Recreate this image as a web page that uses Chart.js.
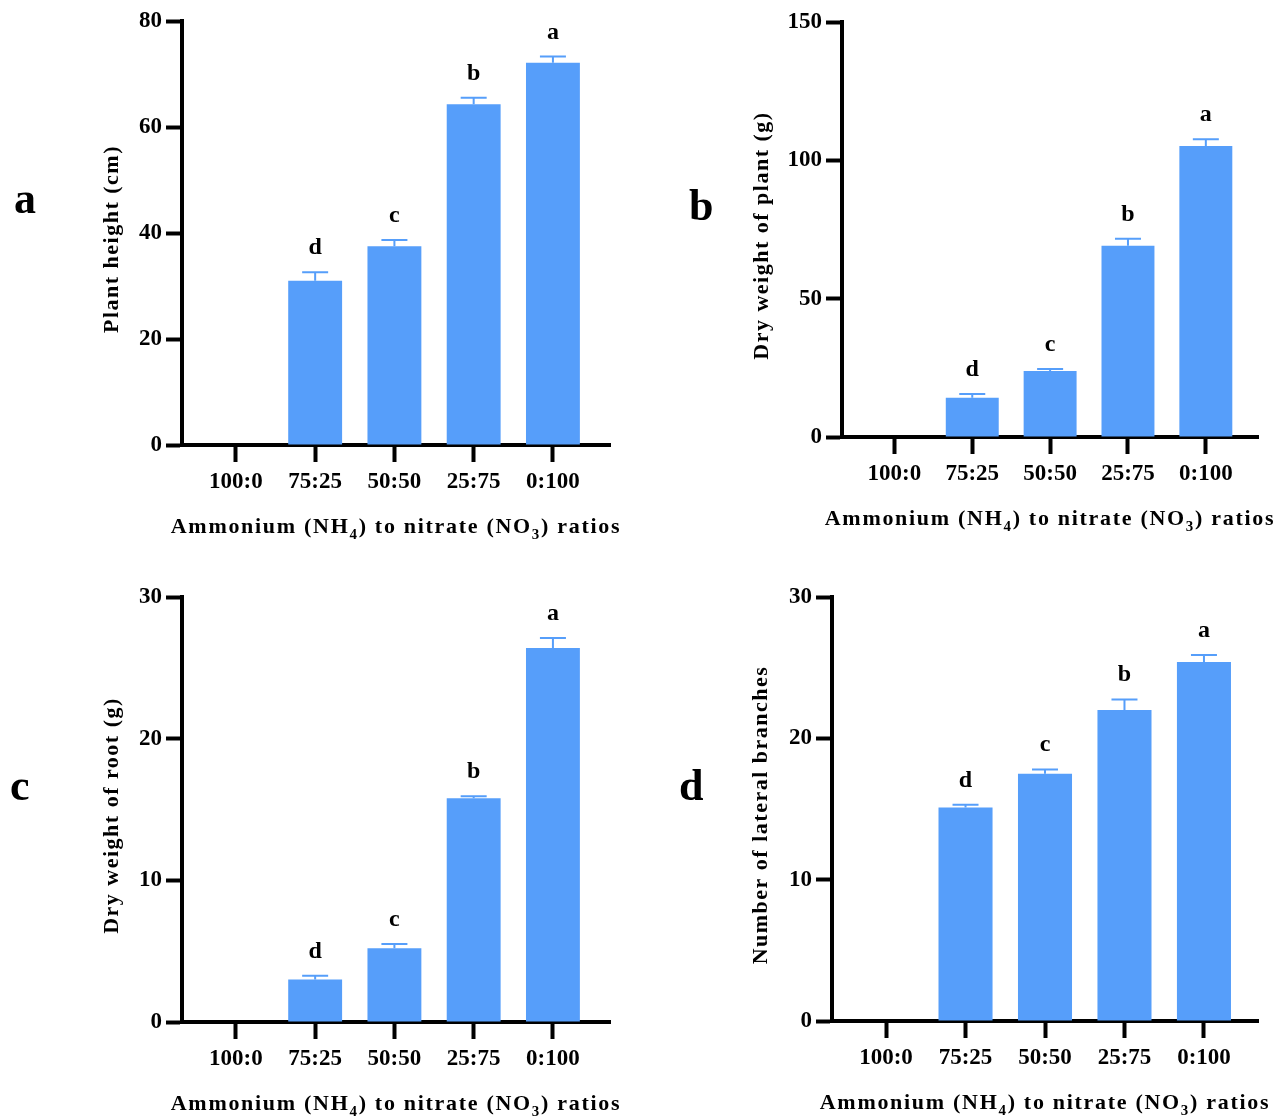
<!DOCTYPE html>
<html>
<head>
<meta charset="utf-8">
<script src="https://cdn.jsdelivr.net/npm/chart.js@4.4.1/dist/chart.umd.min.js"></script>
<style>
  body { margin: 0; background: #fff; }
  canvas { position: absolute; }
</style>
</head>
<body>
<canvas id="pa" width="642" height="558" style="left:0;top:0"></canvas>
<canvas id="pb" width="642" height="558" style="left:642px;top:0"></canvas>
<canvas id="pc" width="642" height="559" style="left:0;top:558px"></canvas>
<canvas id="pd" width="642" height="559" style="left:642px;top:558px"></canvas>
<script>
const categories = ['100:0', '75:25', '50:50', '25:75', '0:100'];
const sigLetters = ['', 'd', 'c', 'b', 'a'];

// a: plant height (cm)
const heightMean = [0, 31.0, 37.5, 64.3, 72.1];
const heightErr = [0, 1.6, 1.2, 1.2, 1.2];
// b: dry weight of plant (g)
const plantDryMean = [0, 14.2, 23.9, 69.1, 105.2];
const plantDryErr = [0, 1.3, 0.7, 2.6, 2.4];
// c: dry weight of root (g)
const rootDryMean = [0, 3.0, 5.2, 15.8, 26.4];
const rootDryErr = [0, 0.26, 0.3, 0.13, 0.7];
// d: number of lateral branches
const branchMean = [0, 15.1, 17.5, 22.0, 25.4];
const branchErr = [0, 0.2, 0.3, 0.75, 0.5];

const FONT = '"Liberation Serif", "Times New Roman", serif';
const BLUE = '#569EFA';
const xTitleParts = [['Ammonium (NH', false], ['4', true], [') to nitrate (NO', false], ['3', true], [') ratios', false]];

function drawParts(ctx, parts, cx, baseline, size, spacing) {
  ctx.letterSpacing = spacing + 'px';
  const fontFor = sub => 'bold ' + (sub ? Math.round(size * 0.7) : size) + 'px ' + FONT;
  let total = 0;
  const widths = parts.map(([t, sub]) => {
    ctx.font = fontFor(sub);
    const w = ctx.measureText(t).width;
    total += w;
    return w;
  });
  let x = cx - total / 2;
  ctx.textAlign = 'left';
  ctx.textBaseline = 'alphabetic';
  parts.forEach(([t, sub], i) => {
    ctx.font = fontFor(sub);
    ctx.fillText(t, x, sub ? baseline + size * 0.25 : baseline);
    x += widths[i];
  });
}

function makePanel(id, cfg) {
  const decor = {
    id: 'decor',
    afterDatasetsDraw(chart) {
      const ctx = chart.ctx;
      const ys = chart.scales.y;
      const meta = chart.getDatasetMeta(0);
      ctx.save();
      meta.data.forEach((bar, i) => {
        if (!cfg.values[i]) return;
        const top = ys.getPixelForValue(cfg.values[i] + cfg.errors[i]);
        ctx.strokeStyle = BLUE;
        ctx.lineWidth = 2;
        ctx.beginPath();
        ctx.moveTo(bar.x, bar.y);
        ctx.lineTo(bar.x, top);
        ctx.moveTo(bar.x - 13, top);
        ctx.lineTo(bar.x + 13, top);
        ctx.stroke();
        ctx.fillStyle = '#000';
        ctx.font = 'bold 24px ' + FONT;
        ctx.textAlign = 'center';
        ctx.textBaseline = 'alphabetic';
        ctx.fillText(sigLetters[i], bar.x, top - 18);
      });
      ctx.restore();
    },
    afterDraw(chart) {
      const ctx = chart.ctx;
      const area = chart.chartArea;
      ctx.save();
      ctx.fillStyle = '#000';
      // x title
      drawParts(ctx, xTitleParts, (area.left + area.right) / 2, area.bottom + 88, 22, 1.7);
      // y title
      ctx.translate(area.left + cfg.yTitleOff, (area.top + area.bottom) / 2 + 6);
      ctx.rotate(-Math.PI / 2);
      drawParts(ctx, [[cfg.yTitle, false]], 0, 8, 22, 1.5);
      ctx.restore();
      // panel letter
      ctx.save();
      ctx.letterSpacing = '0px';
      ctx.fillStyle = '#000';
      ctx.font = 'bold 44px ' + FONT;
      ctx.textAlign = 'left';
      ctx.textBaseline = 'alphabetic';
      ctx.fillText(cfg.panel, cfg.panelX, cfg.panelY);
      ctx.restore();
    }
  };

  const tickFont = { family: FONT, size: 23, weight: 'bold' };
  new Chart(document.getElementById(id), {
    type: 'bar',
    data: {
      datasets: [{
        data: cfg.values.map((v, i) => ({ x: i + 1, y: v })),
        backgroundColor: BLUE,
        borderWidth: 0,
        categoryPercentage: 1,
        barPercentage: 0.68
      }]
    },
    options: {
      responsive: false,
      animation: false,
      layout: { padding: { top: cfg.padTop, right: cfg.padRight, left: 0, bottom: 0 } },
      plugins: { legend: { display: false }, tooltip: { enabled: false } },
      scales: {
        x: {
          type: 'linear',
          offset: false,
          min: cfg.xMin,
          max: cfg.xMax,
          afterBuildTicks: s => { s.ticks = categories.map((c, i) => ({ value: i + 1 })); },
          afterFit: s => { s.height = cfg.xH; },
          ticks: {
            callback: v => categories[Math.round(v) - 1],
            font: tickFont, color: '#000', padding: 6, maxRotation: 0, autoSkip: false
          },
          grid: { offset: false, drawOnChartArea: false, tickLength: 17, tickWidth: 4, tickColor: '#000' },
          border: { color: '#000', width: 4 }
        },
        y: {
          min: 0,
          max: cfg.max,
          afterFit: s => { s.width = cfg.yW; },
          ticks: { stepSize: cfg.step, font: tickFont, color: '#000', padding: 4 },
          grid: { drawOnChartArea: false, tickLength: 16, tickWidth: 4, tickColor: '#000' },
          border: { color: '#000', width: 4 }
        }
      }
    },
    plugins: [decor]
  });
}

makePanel('pa', {
  values: heightMean, errors: heightErr, max: 80, step: 20,
  yTitle: 'Plant height (cm)', yTitleOff: -72,
  yW: 182, padTop: 21, padRight: 32, xH: 113, xMin: 0.32, xMax: 5.72,
  panel: 'a', panelX: 14, panelY: 213
});
makePanel('pb', {
  values: plantDryMean, errors: plantDryErr, max: 150, step: 50,
  yTitle: 'Dry weight of plant (g)', yTitleOff: -82,
  yW: 200, padTop: 22, padRight: 26, xH: 121, xMin: 0.327, xMax: 5.67,
  panel: 'b', panelX: 47, panelY: 220
});
makePanel('pc', {
  values: rootDryMean, errors: rootDryErr, max: 30, step: 10,
  yTitle: 'Dry weight of root (g)', yTitleOff: -72,
  yW: 182, padTop: 39, padRight: 32, xH: 95, xMin: 0.32, xMax: 5.72,
  panel: 'c', panelX: 10, panelY: 242
});
makePanel('pd', {
  values: branchMean, errors: branchErr, max: 30, step: 10,
  yTitle: 'Number of lateral branches', yTitleOff: -73,
  yW: 190, padTop: 39, padRight: 26, xH: 96, xMin: 0.32, xMax: 5.68,
  panel: 'd', panelX: 37, panelY: 242
});
</script>
</body>
</html>
